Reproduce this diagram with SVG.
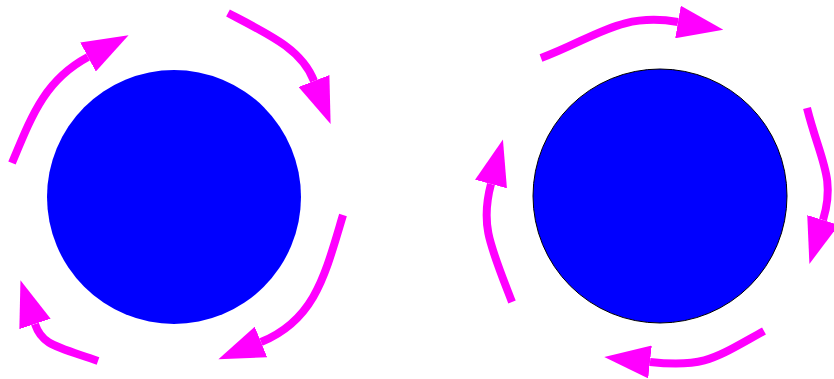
<svg xmlns="http://www.w3.org/2000/svg" width="834" height="379" viewBox="0 0 834 379">
<style>
.ball{fill:#0000ff}
.ball2{fill:#0000ff;stroke:#000;stroke-width:1}
.arr{fill:none;stroke:#ff00ff;stroke-width:8;marker-end:url(#head)}
</style>
<defs>
<marker id="head" markerUnits="userSpaceOnUse" viewBox="0 0 46 33" markerWidth="46" markerHeight="33" refX="0" refY="16.5" orient="auto">
<path d="M0,0 L46,16.5 L0,33 z" fill="#ff00ff"/>
</marker>
</defs>
<rect width="834" height="379" fill="#fff"/>
<g id="ball-left"><circle class="ball" cx="174" cy="197" r="127"/></g>
<g id="ball-right"><circle class="ball2" cx="660" cy="196" r="127"/></g>
<g id="connectors">
<path class="arr" d="M12,163 C32,115 45,80 88,57"/>
<path class="arr" d="M228,13 C272,36 302,50 314,81"/>
<path class="arr" d="M343,215 C325,275 315,320 261,342"/>
<path class="arr" d="M98,361 C55,346 42,345 35,324"/>
<path class="arr" d="M541,58 C595,38 620,12 678,22"/>
<path class="arr" d="M807,108 C820,160 836,178 823,220"/>
<path class="arr" d="M764,331 C715,358 705,368 650,362"/>
<path class="arr" d="M512,302 C490,245 480,225 491,184"/>
</g>
</svg>
